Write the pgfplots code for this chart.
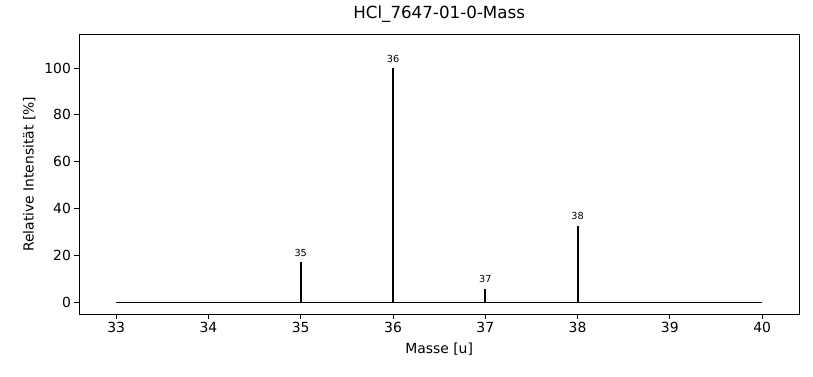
\documentclass[border=0pt]{standalone}
\usepackage{fontspec}
\setmainfont{DejaVu Sans}
\usepackage{pgfplots}
\pgfplotsset{compat=1.18}
\begin{document}
\begin{tikzpicture}[x=1pt,y=1pt]
\useasboundingbox (0,0) rectangle (813,376);
\begin{axis}[
  at={(79.3pt,62pt)}, anchor=south west,
  scale only axis, width=719.7pt, height=279.5pt,
  xmin=32.6, xmax=40.4, ymin=-5, ymax=114.3,
  xtick={33,34,35,36,37,38,39,40}, ytick={0,20,40,60,80,100},
  tick align=outside, tick pos=left,
  major tick length=4.9pt,
  every tick/.style={line width=1pt, black},
  axis line style={line width=1pt},
  ticklabel style={font=\fontsize{13.9}{16}\selectfont},
  /pgf/number format/assume math mode=true,
  xlabel={Masse [u]},
  ylabel={Relative Intensität [\%]},
  label style={font=\fontsize{13.9}{16}\selectfont},
  xlabel style={at={(axis description cs:0.5,-0.1252)}, anchor=center},
  ylabel style={at={(axis description cs:-0.0695,0.5)}, anchor=center},
  title={HCl\_7647-01-0-Mass},
  title style={font=\fontsize{16.7}{20}\selectfont, at={(axis description cs:0.5,1.0519)}, anchor=center},
]
\addplot[black, line width=1.4pt] coordinates {(33,0) (40,0)};
\addplot[ycomb, black, line width=2pt, mark=none,
  nodes near coords={\pgfmathprintnumber[fixed,precision=0]{\pgfplotspointmeta}},
  point meta=x,
  every node near coord/.style={font=\fontsize{9.7}{10}\selectfont, anchor=base, inner sep=0pt, yshift=6pt, /pgf/number format/assume math mode=true}]
  coordinates {(35,17.1) (36,100) (37,5.7) (38,32.6)};
\end{axis}
\end{tikzpicture}
\end{document}
